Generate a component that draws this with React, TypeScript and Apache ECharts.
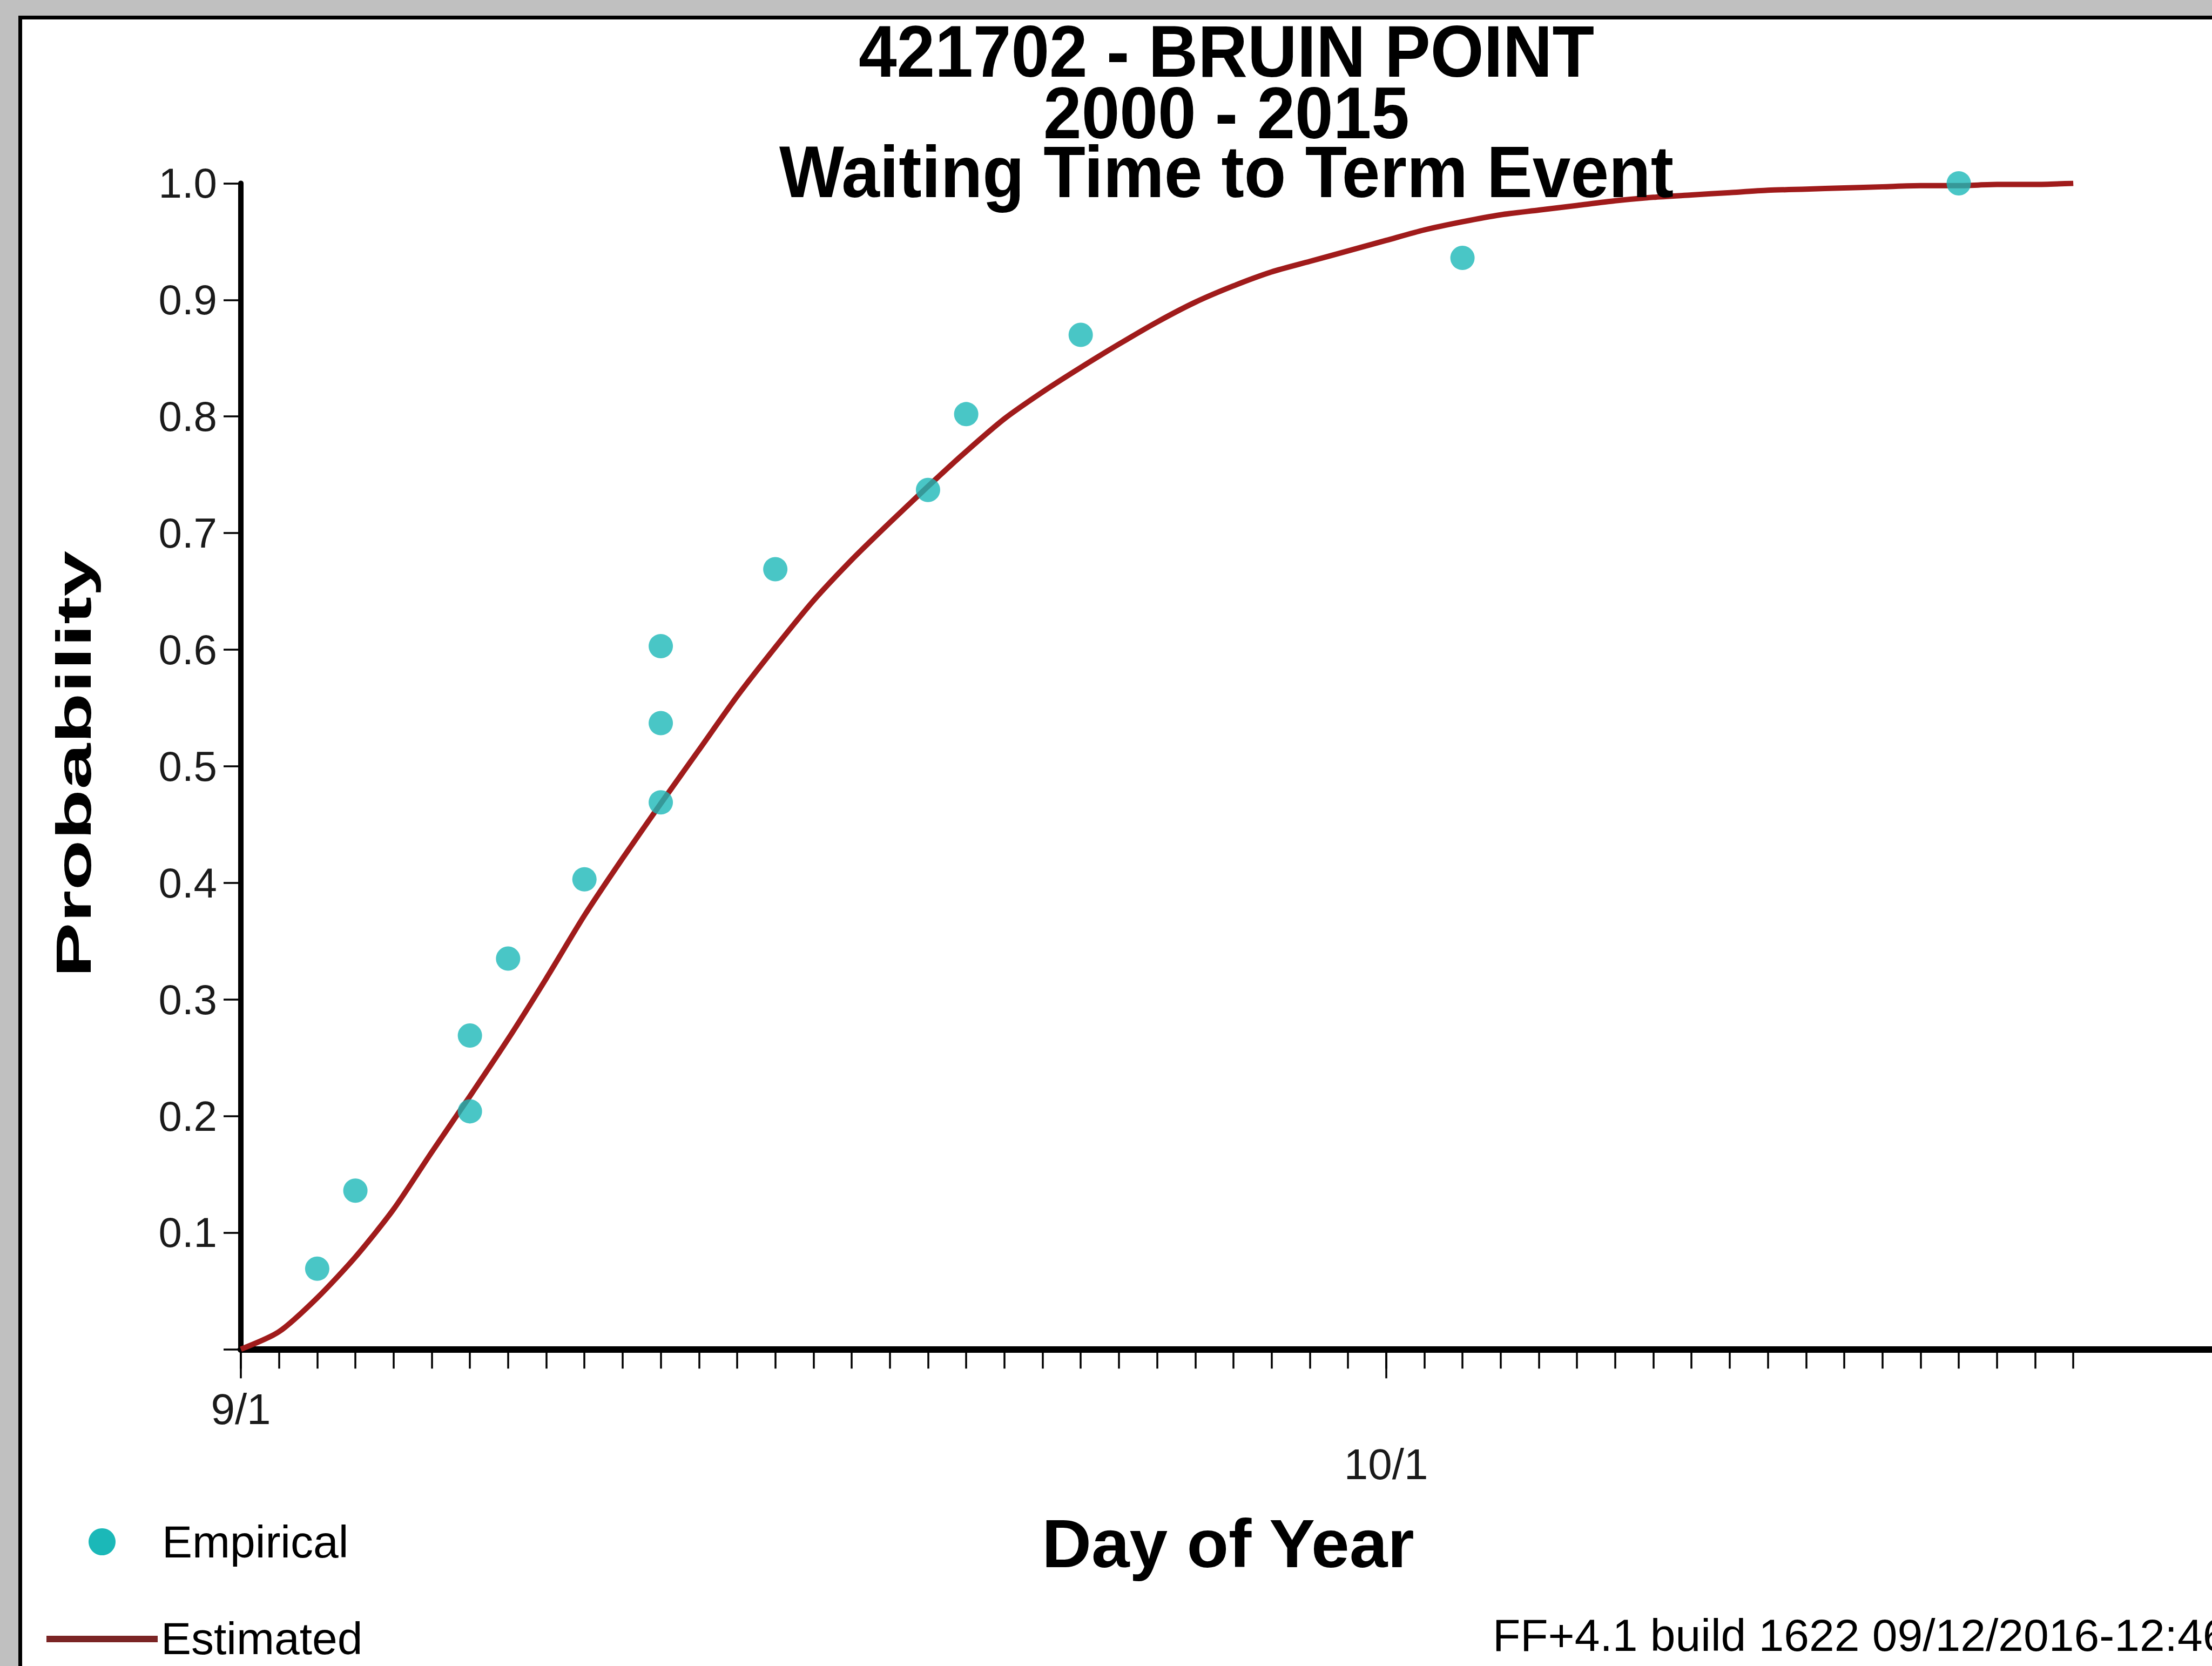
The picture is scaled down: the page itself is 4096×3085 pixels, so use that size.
import React, { useEffect, useRef } from 'react';
import * as echarts from 'echarts';

// ---------------- data ----------------
// days after Sept 1
const EST_DAYS = [
  0, 1, 2, 3, 4, 5, 6, 7, 8, 9, 10, 11, 12, 13, 14, 15, 16, 17, 18, 19, 20, 21, 22, 23, 24,
  25, 26, 27, 28, 29, 30, 31, 32, 33, 34, 35, 36, 37, 38, 39, 40, 41, 42, 43, 44, 45, 46, 47, 48,
];
const EST_PROB = [
  0.0, 0.015, 0.044, 0.079, 0.12, 0.169, 0.217, 0.266, 0.318, 0.372, 0.421, 0.468, 0.514, 0.56,
  0.602, 0.642, 0.677, 0.709, 0.74, 0.77, 0.798, 0.821, 0.842, 0.862, 0.881, 0.898, 0.912, 0.924,
  0.933, 0.942, 0.951, 0.96, 0.967, 0.973, 0.977, 0.981, 0.985, 0.988, 0.99, 0.992, 0.994, 0.995,
  0.996, 0.997, 0.998, 0.998, 0.999, 0.999, 1.0,
];
const EMP_DAYS = [2, 3, 6, 6, 7, 9, 11, 11, 11, 14, 18, 19, 22, 32, 45];
const EMP_PROB = [
  0.069, 0.136, 0.204, 0.269, 0.335, 0.403, 0.469, 0.537, 0.603, 0.669, 0.737, 0.802, 0.87, 0.936, 1.0,
];
const MINOR_TICK_DAYS = EST_DAYS;
const MAJOR_TICK_DAYS = [0, 30];
const X_MAJOR_LABELS: Record<number, string> = { 0: '9/1', 30: '\n10/1' };
const TITLE_LINES = ['421702 - BRUIN POINT', '2000 - 2015', 'Waiting Time to Term Event'];
const X_NAME = 'Day of Year';
const Y_NAME = 'Probability';
const LEGEND_NAMES = ['Empirical', 'Estimated'];
const FOOTER = 'FF+4.1 build 1622 09/12/2016-12:46';

// ---------------- layout (window px) ----------------
const W = 4096;
const H = 3085;
const FONT = "'Liberation Sans', Arial, sans-serif";
const GRID_LEFT = 446;
const GRID_TOP = 339.4;
const GRID_H = 2158.9;
const DAY_W = 70.69;
const X_MAX = 48;
const GRID2_W = W - GRID_LEFT;
const X_MAX_EXT = GRID2_W / DAY_W;
const TEAL = '#1bb8b8';
const RED = '#a01b1b';

export default function App() {
  const ref = useRef<HTMLDivElement>(null);

  useEffect(() => {
    if (!ref.current) return;
    const chart = echarts.init(ref.current, undefined, { renderer: 'svg', width: W, height: H });

    const estData = EST_DAYS.map((d, i) => [d, EST_PROB[i]]);
    const empData = EMP_DAYS.map((d, i) => [d, EMP_PROB[i]]);

    const titleYs = [95, 209, 318];

    const textStyle = (t: string, size: number, bold: boolean, align: string) => ({
      text: t,
      fontSize: size,
      fontWeight: bold ? 'bold' : 'normal',
      fontFamily: FONT,
      fill: '#000',
      align,
      verticalAlign: 'middle',
      textAlign: align,
      textVerticalAlign: 'middle',
    });

    const option: any = {
      animation: false,
      backgroundColor: 'transparent',
      grid: [
        { left: GRID_LEFT, top: GRID_TOP, width: X_MAX * DAY_W, height: GRID_H },
        { left: GRID_LEFT, top: GRID_TOP, width: GRID2_W, height: GRID_H },
      ],
      xAxis: [
        {
          type: 'value',
          gridIndex: 0,
          min: 0,
          max: X_MAX,
          interval: 1,
          axisLine: { show: true, lineStyle: { color: '#000', width: 12 } },
          axisTick: {
            show: true,
            length: 36,
            customValues: MINOR_TICK_DAYS,
            lineStyle: { color: '#000', width: 3.5 },
          },
          axisLabel: { show: false },
          splitLine: { show: false },
        },
        {
          type: 'value',
          gridIndex: 1,
          min: 0,
          max: X_MAX_EXT,
          axisLine: { show: true, lineStyle: { color: '#000', width: 12 } },
          axisTick: {
            show: true,
            length: 54,
            customValues: MAJOR_TICK_DAYS,
            lineStyle: { color: '#000', width: 3.5 },
          },
          axisLabel: {
            show: true,
            customValues: MAJOR_TICK_DAYS,
            margin: 60,
            fontSize: 80,
            lineHeight: 102,
            fontFamily: FONT,
            color: '#1a1a1a',
            formatter: (v: number) => X_MAJOR_LABELS[v] ?? '',
          },
          splitLine: { show: false },
        },
      ],
      yAxis: [
        {
          type: 'value',
          gridIndex: 0,
          min: 0,
          max: 1,
          interval: 0.1,
          axisLine: { show: true, lineStyle: { color: '#000', width: 10 } },
          axisTick: { show: true, length: 32, lineStyle: { color: '#000', width: 3.5 } },
          axisLabel: {
            show: true,
            margin: 44,
            fontSize: 78,
            fontFamily: FONT,
            color: '#1a1a1a',
            formatter: (v: number) => (v === 0 ? '' : v.toFixed(1)),
          },
          splitLine: { show: false },
        },
        {
          type: 'value',
          gridIndex: 1,
          min: 0,
          max: 1,
          show: false,
        },
      ],
      series: [
        {
          name: LEGEND_NAMES[1],
          type: 'line',
          xAxisIndex: 0,
          yAxisIndex: 0,
          data: estData,
          showSymbol: false,
          symbol: 'none',
          smooth: 0.25,
          lineStyle: { color: RED, width: 10, join: 'round' },
          z: 2,
        },
        {
          name: LEGEND_NAMES[0],
          type: 'scatter',
          xAxisIndex: 0,
          yAxisIndex: 0,
          data: empData,
          symbol: 'circle',
          symbolSize: 45,
          itemStyle: { color: TEAL },
          z: 3,
        },
      ],
      graphic: [
        ...TITLE_LINES.map((t, i) => ({
          type: 'text',
          x: 2271,
          y: titleYs[i],
          scaleY: 1.07,
          z: 10,
          style: textStyle(t, 127, true, 'center'),
        })),
        {
          type: 'text',
          x: 2274,
          y: 2858,
          z: 10,
          style: textStyle(X_NAME, 127, true, 'center'),
        },
        {
          type: 'text',
          x: 137,
          y: 1415,
          rotation: Math.PI / 2,
          scaleX: 1.7,
          z: 10,
          style: textStyle(Y_NAME, 90, true, 'center'),
        },
        {
          type: 'circle',
          shape: { cx: 189, cy: 2855, r: 25 },
          z: 10,
          style: { fill: TEAL },
        },
        {
          type: 'text',
          x: 300,
          y: 2855,
          z: 10,
          style: textStyle(LEGEND_NAMES[0], 84, false, 'left'),
        },
        {
          type: 'line',
          shape: { x1: 86, y1: 3035, x2: 292, y2: 3035 },
          z: 10,
          style: { stroke: '#7b2525', lineWidth: 12 },
        },
        {
          type: 'text',
          x: 298,
          y: 3034,
          z: 10,
          style: textStyle(LEGEND_NAMES[1], 84, false, 'left'),
        },
        {
          type: 'text',
          x: 2764,
          y: 3028,
          z: 10,
          style: textStyle(FOOTER, 84, false, 'left'),
        },
      ],
    };

    chart.setOption(option);
    return () => {
      chart.dispose();
    };
  }, []);

  return (
    <div
      style={{
        position: 'fixed',
        left: 0,
        top: 0,
        width: W,
        height: H,
        background: '#c0c0c0',
        overflow: 'hidden',
      }}
    >
      <div
        style={{
          position: 'absolute',
          left: 34,
          top: 29,
          right: 0,
          bottom: 0,
          background: '#ffffff',
          borderTop: '7px solid #000',
          borderLeft: '7px solid #000',
        }}
      />
      <div ref={ref} style={{ position: 'absolute', left: 0, top: 0, width: W, height: H }} />
    </div>
  );
}
